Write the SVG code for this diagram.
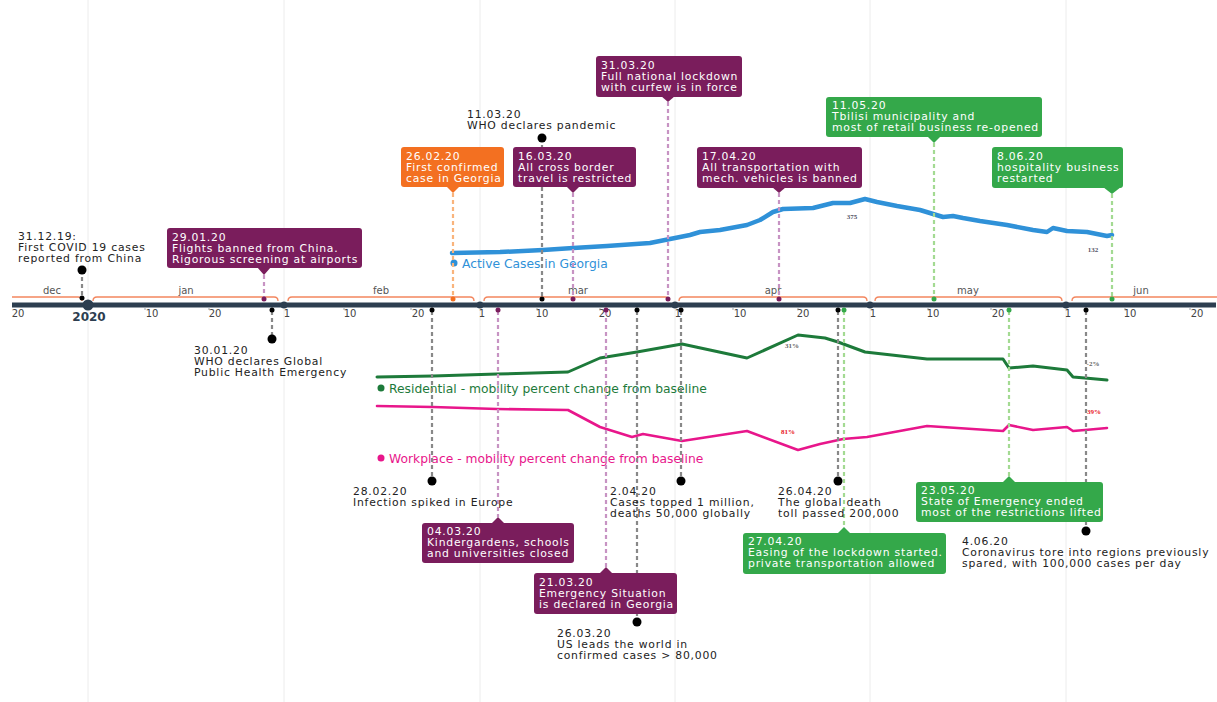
<svg xmlns="http://www.w3.org/2000/svg" width="1217" height="702" viewBox="0 0 1217 702">
<style>
.t{font-family:"DejaVu Sans","Liberation Sans",sans-serif;font-size:10.8px;letter-spacing:0.78px}
.w{fill:#fff}
.k{fill:#222}
.bp{fill:#7a1d5c}
.bo{fill:#f37021}
.bg{fill:#34a84a}
.stk{stroke:#888;stroke-width:2.2;stroke-dasharray:4 3;fill:none}
.stp{stroke:#c793c3;stroke-width:2.2;stroke-dasharray:4 3;fill:none}
.sto{stroke:#f9b47c;stroke-width:2.2;stroke-dasharray:4 3;fill:none}
.stg{stroke:#a3da92;stroke-width:2.2;stroke-dasharray:4 3;fill:none}
.grid{stroke:#ececec;stroke-width:1}
.br{stroke:#f3875f;stroke-width:1.3;fill:none}
.ml{font-family:"DejaVu Sans",sans-serif;font-size:10px;fill:#555;text-anchor:middle}
.tl{font-family:"DejaVu Sans",sans-serif;font-size:10px;fill:#444;text-anchor:middle}
.sm{font-family:"Liberation Serif",serif;font-size:7px;font-weight:bold;text-anchor:middle}
.leg{font-family:"DejaVu Sans",sans-serif;font-size:12.3px}
</style>
<rect width="1217" height="702" fill="#fff"/>
<g id="grid">
<line class="grid" x1="88" y1="0" x2="88" y2="702"/>
<line class="grid" x1="284" y1="0" x2="284" y2="702"/>
<line class="grid" x1="480" y1="0" x2="480" y2="702"/>
<line class="grid" x1="675" y1="0" x2="675" y2="702"/>
<line class="grid" x1="870" y1="0" x2="870" y2="702"/>
<line class="grid" x1="1066" y1="0" x2="1066" y2="702"/>
</g>
<g id="data-lines" fill="none" stroke-linejoin="round" stroke-linecap="round">
<polyline stroke="#2f91d8" stroke-width="4.5" points="452,253 500,252 543,250 573,248 607,246 650,243 670,239 690,235 700,232 720,230 747,225 760,220 773,212 783,209 813,208 833,203 850,203 865,199 877,202 897,206 920,210 943,217 953,216 963,218 980,221 1007,225 1033,230 1047,232 1053,228 1067,231 1087,232 1107,236 1112,235"/>
<polyline stroke="#1d7a3a" stroke-width="3" points="377,377 433,376 497,374 568,372 600,358 637,352 682,344 747,358 798,335 825,338 838,342 865,352 927,359 1003,359 1009,368 1033,366 1067,370 1073,377 1085,378 1107,380"/>
<polyline stroke="#e8168b" stroke-width="2.6" points="377,406 433,407 497,409 568,410 600,427 632,437 643,434 682,441 747,431 798,450 820,444 843,439 867,437 927,426 1003,431 1009,425 1033,430 1067,427 1073,431 1085,430 1107,428"/>
<text class="sm" x="852" y="219" fill="#556" font-weight="normal">375</text>
<text class="sm" x="1093" y="252" fill="#556" font-weight="normal">132</text>
<text class="sm" x="792" y="348" fill="#666">31%</text>
<text class="sm" x="1093" y="366" fill="#666">-2%</text>
<text class="sm" x="788" y="434" fill="#e8141c">81%</text>
<text class="sm" x="1094" y="414" fill="#e8141c">39%</text>
<circle cx="454" cy="263" r="3.5" fill="#2f91d8"/>
<text class="leg" x="462" y="268" fill="#2f91d8">Active Cases in Georgia</text>
<circle cx="381" cy="388" r="3.5" fill="#1d7a3a"/>
<text class="leg" x="389" y="393" fill="#1d7a3a">Residential - mobility percent change from baseline</text>
<circle cx="381" cy="458" r="3.5" fill="#e8168b"/>
<text class="leg" x="389" y="463" fill="#e8168b">Workplace - mobility percent change from baseline</text>
</g>
<g id="axis">
<path class="br" d="M12,297 H78 Q82,297 82,301"/>
<path class="br" d="M93,301 Q93,297 97,297 H274 Q278,297 278,301"/>
<path class="br" d="M288,301 Q288,297 292,297 H470 Q474,297 474,301"/>
<path class="br" d="M484,301 Q484,297 488,297 H665 Q669,297 669,301"/>
<path class="br" d="M679,301 Q679,297 683,297 H863 Q867,297 867,301"/>
<path class="br" d="M875,301 Q875,297 879,297 H1058 Q1062,297 1062,301"/>
<path class="br" d="M1072,301 Q1072,297 1076,297 H1217"/>
<text class="ml" x="52" y="294">dec</text>
<text class="ml" x="186" y="294">jan</text>
<text class="ml" x="381" y="294">feb</text>
<text class="ml" x="578" y="294">mar</text>
<text class="ml" x="773" y="294">apr</text>
<text class="ml" x="968" y="294">may</text>
<text class="ml" x="1141" y="294">jun</text>
<line x1="12" y1="305" x2="1216" y2="305" stroke="#2d3e50" stroke-width="5"/>
<g stroke="#9aa3ad" stroke-width="1">
<line x1="145" y1="307" x2="145" y2="310"/><line x1="209" y1="307" x2="209" y2="310"/>
<line x1="344" y1="307" x2="344" y2="310"/><line x1="411" y1="307" x2="411" y2="310"/>
<line x1="537" y1="307" x2="537" y2="310"/><line x1="600" y1="307" x2="600" y2="310"/>
<line x1="733" y1="307" x2="733" y2="310"/><line x1="798" y1="307" x2="798" y2="310"/>
<line x1="928" y1="307" x2="928" y2="310"/><line x1="991" y1="307" x2="991" y2="310"/>
<line x1="1125" y1="307" x2="1125" y2="310"/><line x1="1190" y1="307" x2="1190" y2="310"/>
</g>
<circle cx="88" cy="305" r="5.5" fill="#2d3e50"/>
<circle cx="284" cy="305" r="3.5" fill="#2d3e50"/>
<circle cx="480" cy="305" r="3.5" fill="#2d3e50"/>
<circle cx="675" cy="305" r="3.5" fill="#2d3e50"/>
<circle cx="870" cy="305" r="3.5" fill="#2d3e50"/>
<circle cx="1066" cy="305" r="3.5" fill="#2d3e50"/>
<text class="tl" x="18" y="317">20</text>
<text class="tl" x="152" y="317">10</text>
<text class="tl" x="215" y="317">20</text>
<text class="tl" x="287" y="317">1</text>
<text class="tl" x="350" y="317">10</text>
<text class="tl" x="418" y="317">20</text>
<text class="tl" x="482" y="317">1</text>
<text class="tl" x="542" y="317">10</text>
<text class="tl" x="605" y="317">20</text>
<text class="tl" x="678" y="317">1</text>
<text class="tl" x="740" y="317">10</text>
<text class="tl" x="803" y="317">20</text>
<text class="tl" x="873" y="317">1</text>
<text class="tl" x="933" y="317">10</text>
<text class="tl" x="998" y="317">20</text>
<text class="tl" x="1068" y="317">1</text>
<text class="tl" x="1130" y="317">10</text>
<text class="tl" x="1197" y="317">20</text>
<text x="89" y="321" text-anchor="middle" font-family="DejaVu Sans,sans-serif" font-size="12" font-weight="bold" fill="#2d3e50">2020</text>
</g>
<g id="connectors">
<line class="stk" x1="82" y1="270" x2="82" y2="298"/>
<line class="stp" x1="264" y1="275" x2="264" y2="298"/>
<line class="sto" x1="453" y1="193" x2="453" y2="298"/>
<line class="stk" x1="542" y1="138" x2="542" y2="298"/>
<line class="stp" x1="573" y1="193" x2="573" y2="298"/>
<line class="stp" x1="668" y1="102" x2="668" y2="298"/>
<line class="stp" x1="779" y1="193" x2="779" y2="298"/>
<line class="stg" x1="934" y1="143" x2="934" y2="298"/>
<line class="stg" x1="1112" y1="194" x2="1112" y2="298"/>
<line class="stk" x1="272" y1="311" x2="272" y2="339"/>
<line class="stk" x1="432" y1="311" x2="432" y2="481"/>
<line class="stp" x1="498" y1="311" x2="498" y2="517"/>
<line class="stp" x1="606" y1="311" x2="606" y2="567"/>
<line class="stk" x1="637" y1="311" x2="637" y2="622"/>
<line class="stk" x1="681" y1="311" x2="681" y2="481"/>
<line class="stk" x1="838" y1="311" x2="838" y2="481"/>
<line class="stg" x1="844" y1="311" x2="844" y2="527"/>
<line class="stg" x1="1009" y1="311" x2="1009" y2="476"/>
<line class="stk" x1="1086" y1="311" x2="1086" y2="531"/>
</g>
<g id="ev-311219">
<circle cx="82" cy="270" r="4.5" fill="#000"/><circle cx="82" cy="298" r="2.5" fill="#000"/>
<text class="t k" x="18" y="240">31.12.19:</text>
<text class="t k" x="18" y="251">First COVID 19 cases</text>
<text class="t k" x="18" y="262">reported from China</text>
</g>
<g id="ev-290120">
<rect class="bp" x="167" y="228" width="195" height="40" rx="3"/>
<polygon class="bp" points="257,267 264,275 271,267"/>
<circle cx="264" cy="299" r="2.5" fill="#7a1d5c"/>
<text class="t w" x="172" y="241">29.01.20</text>
<text class="t w" x="172" y="252">Flights banned from China.</text>
<text class="t w" x="172" y="263">Rigorous screening at airports</text>
</g>
<g id="ev-260220">
<rect class="bo" x="401" y="147" width="103" height="40" rx="3"/>
<polygon class="bo" points="446,186 453,193 460,186"/>
<circle cx="453" cy="299" r="2.5" fill="#f37021"/>
<text class="t w" x="406" y="160">26.02.20</text>
<text class="t w" x="406" y="171">First confirmed</text>
<text class="t w" x="406" y="182">case in Georgia</text>
</g>
<g id="ev-110320">
<circle cx="542" cy="138" r="4.5" fill="#000"/><circle cx="542" cy="299" r="2.5" fill="#000"/>
<text class="t k" x="467" y="118">11.03.20</text>
<text class="t k" x="467" y="129">WHO declares pandemic</text>
</g>
<g id="ev-160320">
<rect class="bp" x="513" y="147" width="123" height="40" rx="3"/>
<polygon class="bp" points="566,186 573,193 580,186"/>
<circle cx="573" cy="299" r="2.5" fill="#7a1d5c"/>
<text class="t w" x="518" y="160">16.03.20</text>
<text class="t w" x="518" y="171">All cross border</text>
<text class="t w" x="518" y="182">travel is restricted</text>
</g>
<g id="ev-310320">
<rect class="bp" x="596" y="56" width="146" height="41" rx="3"/>
<polygon class="bp" points="661,96 668,102 675,96"/>
<circle cx="668" cy="299" r="2.5" fill="#7a1d5c"/>
<text class="t w" x="601" y="69">31.03.20</text>
<text class="t w" x="601" y="80">Full national lockdown</text>
<text class="t w" x="601" y="91">with curfew is in force</text>
</g>
<g id="ev-170420">
<rect class="bp" x="697" y="147" width="165" height="41" rx="3"/>
<polygon class="bp" points="772,187 779,193 786,187"/>
<circle cx="779" cy="299" r="2.5" fill="#7a1d5c"/>
<text class="t w" x="702" y="160">17.04.20</text>
<text class="t w" x="702" y="171">All transportation with</text>
<text class="t w" x="702" y="182">mech. vehicles is banned</text>
</g>
<g id="ev-110520">
<rect class="bg" x="826" y="97" width="216" height="40" rx="3"/>
<polygon class="bg" points="927,136 934,143 941,136"/>
<circle cx="934" cy="299" r="2.5" fill="#34a84a"/>
<text class="t w" x="832" y="109">11.05.20</text>
<text class="t w" x="832" y="120">Tbilisi municipality and</text>
<text class="t w" x="832" y="131">most of retail business re-opened</text>
</g>
<g id="ev-080620">
<rect class="bg" x="992" y="147" width="131" height="41" rx="3"/>
<polygon class="bg" points="1103,187 1112,194 1121,187"/>
<circle cx="1112" cy="299" r="2.5" fill="#34a84a"/>
<text class="t w" x="997" y="160">8.06.20</text>
<text class="t w" x="997" y="171">hospitality business</text>
<text class="t w" x="997" y="182">restarted</text>
</g>
<g id="ev-300120">
<circle cx="272" cy="310" r="2.5" fill="#000"/><circle cx="272" cy="339" r="4.5" fill="#000"/>
<text class="t k" x="194" y="354">30.01.20</text>
<text class="t k" x="194" y="365">WHO declares Global</text>
<text class="t k" x="194" y="376">Public Health Emergency</text>
</g>
<g id="ev-280220">
<circle cx="432" cy="310" r="2.5" fill="#000"/><circle cx="432" cy="481" r="4.5" fill="#000"/>
<text class="t k" x="353" y="495">28.02.20</text>
<text class="t k" x="353" y="506">Infection spiked in Europe</text>
</g>
<g id="ev-040320">
<circle cx="498" cy="310" r="2.5" fill="#7a1d5c"/>
<rect class="bp" x="422" y="523" width="152" height="40" rx="3"/>
<polygon class="bp" points="491,524 498,517 505,524"/>
<text class="t w" x="427" y="535">04.03.20</text>
<text class="t w" x="427" y="546">Kindergardens, schools</text>
<text class="t w" x="427" y="557">and universities closed</text>
</g>
<g id="ev-210320">
<circle cx="606" cy="310" r="2.5" fill="#7a1d5c"/>
<rect class="bp" x="534" y="573" width="143" height="41" rx="3"/>
<polygon class="bp" points="599,574 606,567 613,574"/>
<text class="t w" x="539" y="586">21.03.20</text>
<text class="t w" x="539" y="597">Emergency Situation</text>
<text class="t w" x="539" y="608">is declared in Georgia</text>
</g>
<g id="ev-260320">
<circle cx="637" cy="310" r="2.5" fill="#000"/><circle cx="637" cy="622" r="4.5" fill="#000"/>
<text class="t k" x="557" y="637">26.03.20</text>
<text class="t k" x="557" y="648">US leads the world in</text>
<text class="t k" x="557" y="659">confirmed cases &gt; 80,000</text>
</g>
<g id="ev-020420">
<circle cx="681" cy="310" r="2.5" fill="#000"/><circle cx="681" cy="481" r="4.5" fill="#000"/>
<text class="t k" x="610" y="495">2.04.20</text>
<text class="t k" x="610" y="506">Cases topped 1 million,</text>
<text class="t k" x="610" y="517">deaths 50,000 globally</text>
</g>
<g id="ev-260420">
<circle cx="838" cy="310" r="2.5" fill="#000"/><circle cx="838" cy="481" r="4.5" fill="#000"/>
<text class="t k" x="778" y="495">26.04.20</text>
<text class="t k" x="778" y="506">The global death</text>
<text class="t k" x="778" y="517">toll passed 200,000</text>
</g>
<g id="ev-270420">
<circle cx="844" cy="310" r="2.5" fill="#34a84a"/>
<rect class="bg" x="743" y="533" width="203" height="41" rx="3"/>
<polygon class="bg" points="837,534 844,527 851,534"/>
<text class="t w" x="748" y="545">27.04.20</text>
<text class="t w" x="748" y="556">Easing of the lockdown started.</text>
<text class="t w" x="748" y="567">private transportation allowed</text>
</g>
<g id="ev-230520">
<circle cx="1009" cy="310" r="2.5" fill="#34a84a"/>
<rect class="bg" x="916" y="482" width="187" height="40" rx="3"/>
<polygon class="bg" points="1002,483 1009,476 1016,483"/>
<text class="t w" x="921" y="494">23.05.20</text>
<text class="t w" x="921" y="505">State of Emergency ended</text>
<text class="t w" x="921" y="516">most of the restrictions lifted</text>
</g>
<g id="ev-040620">
<circle cx="1086" cy="310" r="2.5" fill="#000"/><circle cx="1086" cy="531" r="4.5" fill="#000"/>
<text class="t k" x="962" y="545">4.06.20</text>
<text class="t k" x="962" y="556">Coronavirus tore into regions previously</text>
<text class="t k" x="962" y="567">spared, with 100,000 cases per day</text>
</g>
</svg>
